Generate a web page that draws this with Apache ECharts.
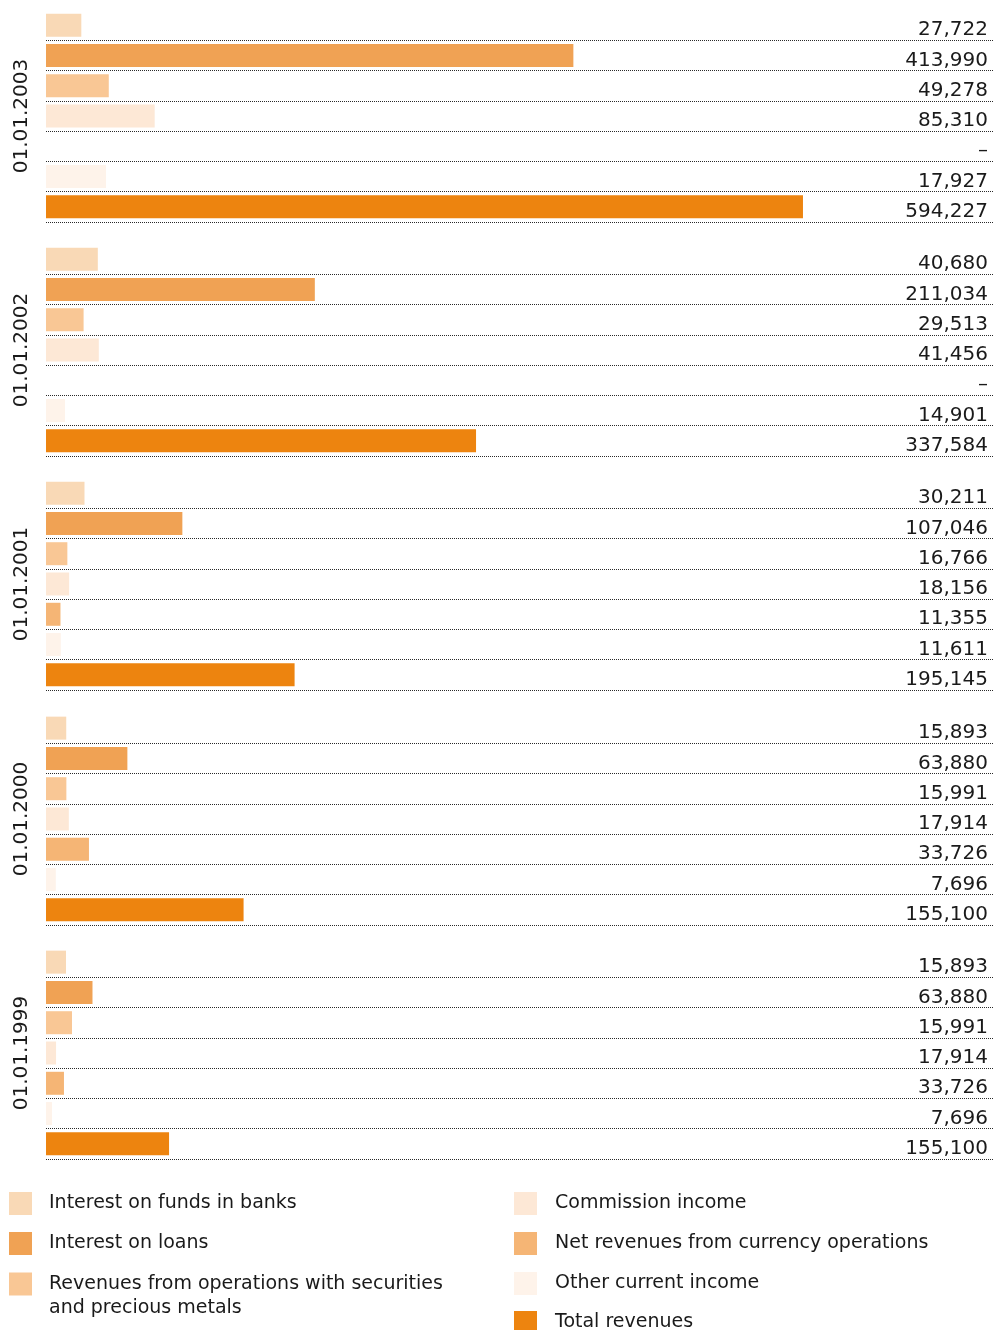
<!DOCTYPE html>
<html>
<head>
<meta charset="utf-8">
<style>
  html, body { margin: 0; padding: 0; background: #ffffff; }
  #chart { width: 993px; height: 1330px; }
</style>
<script src="https://cdn.jsdelivr.net/npm/echarts@6/dist/echarts.min.js"></script>
</head>
<body>
<div id="chart"></div>
<script>
// ---- DATA ----
const groups = ['01.01.2003', '01.01.2002', '01.01.2001', '01.01.2000', '01.01.1999'];
const seriesNames = [
  'Interest on funds in banks',
  'Interest on loans',
  'Revenues from operations with securities\nand precious metals',
  'Commission income',
  'Net revenues from currency operations',
  'Other current income',
  'Total revenues'
];
const colors = ['#f9d9b6', '#f0a254', '#f9c795', '#fde8d6', '#f5b575', '#fef3ea', '#ed840f'];

// bar lengths (null = no bar)
const values2003 = [27722, 413990, 49278, 85310, null, 47100, 594227];
const values2002 = [40680, 211034, 29513, 41456, null, 14901, 337584];
const values2001 = [30211, 107046, 16766, 18156, 11355, 11611, 195145];
const values2000 = [15893, 63880, 15991, 17914, 33726, 7696, 155100];
const values1999 = [15700, 36500, 20400, 7900, 14100, 4700, 96600];

// printed value labels
const labels2003 = ['27,722', '413,990', '49,278', '85,310', '–', '17,927', '594,227'];
const labels2002 = ['40,680', '211,034', '29,513', '41,456', '–', '14,901', '337,584'];
const labels2001 = ['30,211', '107,046', '16,766', '18,156', '11,355', '11,611', '195,145'];
const labels2000 = ['15,893', '63,880', '15,991', '17,914', '33,726', '7,696', '155,100'];
const labels1999 = ['15,893', '63,880', '15,991', '17,914', '33,726', '7,696', '155,100'];

const allValues = [values2003, values2002, values2001, values2000, values1999];
const allLabels = [labels2003, labels2002, labels2001, labels2000, labels1999];

// ---- LAYOUT ----
const FONT = 'DejaVu Sans';
const TEXT = '#1a1a1a';
const gridTops = [10, 244, 478, 713, 947];
const gridHeight = 212;
const XMAX = 743400;

const grids = [], xAxes = [], yAxes = [], series = [];
groups.forEach((g, gi) => {
  grids.push({ left: 46, right: 0, top: gridTops[gi], height: gridHeight, outerBoundsMode: 'none', containLabel: false });
  xAxes.push({ gridIndex: gi, type: 'value', min: 0, max: XMAX, show: false });
  yAxes.push({
    gridIndex: gi, type: 'category', inverse: true, position: 'left',
    data: seriesNames.map((n, i) => 'r' + i),
    axisLine: { show: false }, axisTick: { show: false }, axisLabel: { show: false },
    splitLine: { show: true, interval: (i) => i > 0, lineStyle: { type: 'dotted', color: '#2a2a2a', width: 1 } },
    name: g, nameLocation: 'middle', nameRotate: 90, nameGap: 14,
    nameTextStyle: { fontFamily: FONT, fontSize: 20, color: TEXT }
  });
  yAxes.push({
    gridIndex: gi, type: 'category', inverse: true, position: 'right',
    data: allLabels[gi],
    axisLine: { show: false }, axisTick: { show: false }, splitLine: { show: false },
    axisLabel: { inside: true, margin: 5, fontFamily: FONT, fontSize: 20, color: TEXT,
      verticalAlign: 'top', lineHeight: 10 }
  });
  seriesNames.forEach((name, si) => {
    const d = allValues[gi].map((v, ri) => (ri === si && v != null) ? v : '-');
    series.push({
      type: 'bar', name: name, xAxisIndex: gi, yAxisIndex: gi * 2,
      stack: 'grp' + gi, barWidth: 23, data: d,
      itemStyle: { color: colors[si] }, silent: true, animation: false
    });
  });
});

const legendText = { fontFamily: FONT, fontSize: 19, color: TEXT, padding: [0, 0, 0, 12] };
const legendRight = { fontFamily: FONT, fontSize: 19, color: TEXT, padding: [0, 0, 0, 13] };
const legendBase = { orient: 'vertical', padding: 0, itemGap: 17, itemWidth: 23, itemHeight: 23, icon: 'rect' };
const legends = [
  Object.assign({}, legendBase, { left: 9, top: 1192, data: [seriesNames[0], seriesNames[1]], textStyle: legendText }),
  Object.assign({}, legendBase, { left: 9, top: 1248, data: [seriesNames[2]],
    formatter: (name) => '\n' + name,
    textStyle: Object.assign({}, legendText, { lineHeight: 24 }) }),
  Object.assign({}, legendBase, { left: 514, top: 1192, data: [seriesNames[3], seriesNames[4], seriesNames[5]], textStyle: legendRight }),
  Object.assign({}, legendBase, { left: 514, top: 1311, height: 40, data: [seriesNames[6]], textStyle: legendRight })
];

const chart = echarts.init(document.getElementById('chart'), null, { renderer: 'canvas' });
chart.setOption({
  backgroundColor: '#ffffff',
  animation: false,
  grid: grids, xAxis: xAxes, yAxis: yAxes, series: series, legend: legends
});
</script>
</body>
</html>
